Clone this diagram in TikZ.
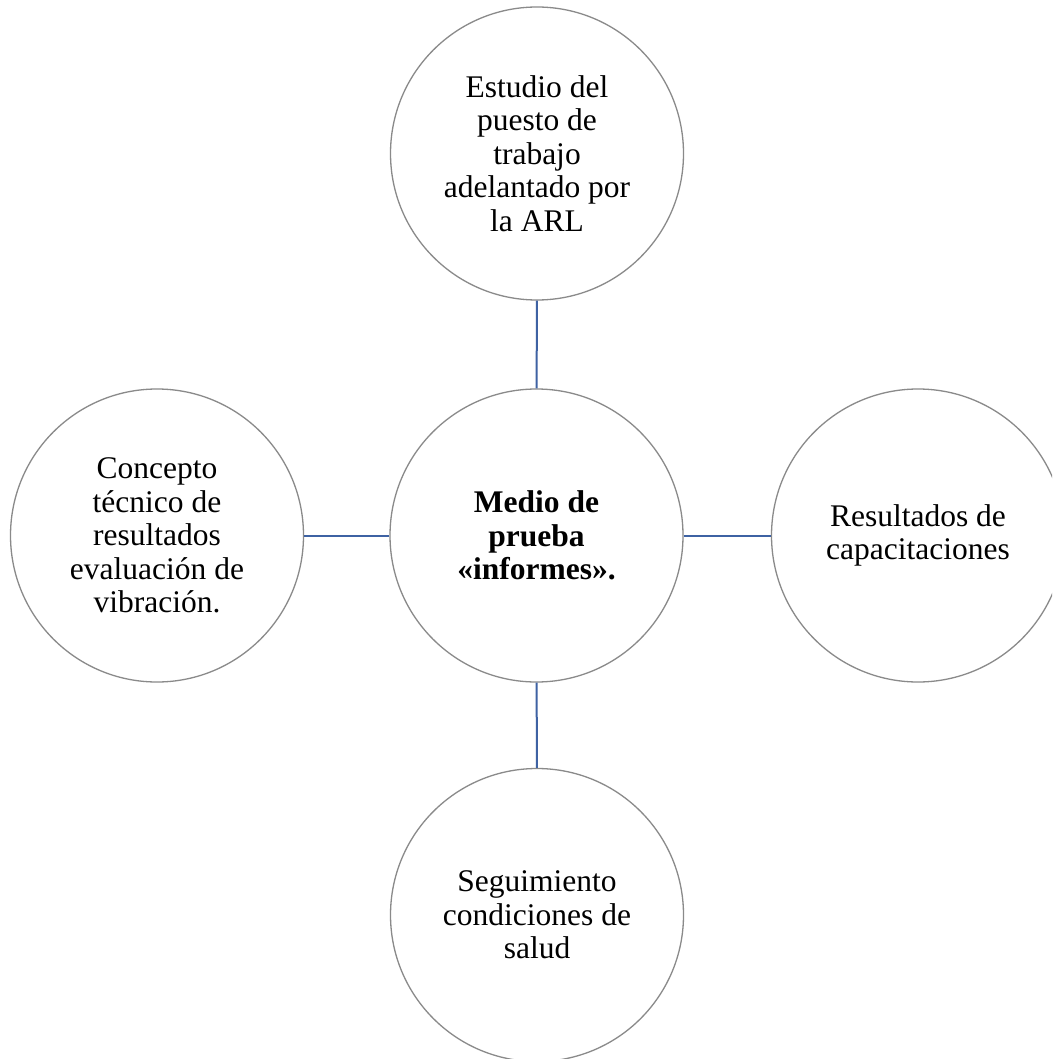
\documentclass[tikz,border=0pt]{standalone}
\usepackage{fontspec}
\setmainfont{Liberation Serif}
\definecolor{ringgray}{HTML}{8A8A8A}
\definecolor{linkblue}{HTML}{3E62A3}
\tikzset{
  bubble/.style={circle, draw=ringgray, line width=1.3pt, fill=white,
    minimum size=293pt, inner sep=0pt, align=center,
    font=\fontsize{31.5pt}{33.5pt}\selectfont},
  link/.style={draw=linkblue, line width=2pt}
}
\begin{document}
\begin{tikzpicture}[x=1pt,y=-1pt]
\clip (0,0) rectangle (1052,1059);
\fill[white] (0,0) rectangle (1052,1059);
\node[bubble] (c) at (536.5,535.5) {\textbf{Medio de}\\\textbf{prueba}\\\textbf{«informes».}};
\node[bubble] (t) at (537,153.5) {Estudio del\\puesto de\\trabajo\\adelantado por\\la ARL};
\node[bubble] (l) at (157,535.5) {Concepto\\técnico de\\resultados\\evaluación de\\vibración.};
\node[bubble] (r) at (918,535.5) {Resultados de\\capacitaciones};
\node[bubble] (b) at (537,915) {Seguimiento\\condiciones de\\salud};
\draw[link] (c) -- (t);
\draw[link] (c) -- (l);
\draw[link] (c) -- (r);
\draw[link] (c) -- (b);
\end{tikzpicture}
\end{document}
